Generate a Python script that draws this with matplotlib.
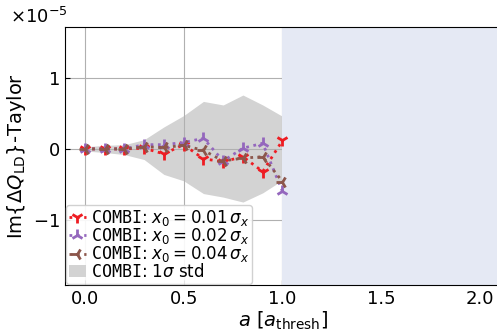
import numpy as np
import matplotlib
matplotlib.use("Agg")
import matplotlib.pyplot as plt

# amplitudes a / a_thresh
a_vals = [0.0, 0.1, 0.2, 0.3, 0.4, 0.5, 0.6, 0.7, 0.8, 0.9, 1.0]

# Im{dQ_LD} - Taylor, units of 1e-5
dq_x001 = [0.0, 0.0, 0.0, 0.01, -0.07, 0.06, -0.14, -0.18, -0.11, -0.32, 0.12]
dq_x002 = [0.0, 0.0, 0.0, 0.06, 0.06, 0.09, 0.15, -0.17, 0.01, 0.08, -0.60]
dq_x004 = [0.0, 0.0, 0.0, 0.03, 0.02, 0.05, -0.02, -0.17, -0.13, -0.11, -0.46]

# 1 sigma band
std_hi = [0.03, 0.05, 0.06, 0.13, 0.31, 0.47, 0.67, 0.62, 0.76, 0.62, 0.46]
std_lo = [-0.03, -0.05, -0.08, -0.15, -0.36, -0.45, -0.63, -0.68, -0.75, -0.62, -0.44]

scale = 1e-5

fig = plt.figure(figsize=(4.97, 3.31), dpi=100)
ax = fig.add_axes([65 / 497, 1 - 285 / 331, (500 - 65) / 497, (285 - 27) / 331])

a = np.array(a_vals)
ax.fill_between(a, np.array(std_lo) * scale, np.array(std_hi) * scale,
                color='#d3d3d3', lw=0, zorder=1, label=r'$\mathtt{COMBI}$: $1\sigma$ std')

ax.plot(a, np.array(dq_x001) * scale, ':', color='#ee1c22', marker='1', ms=9, mew=2, lw=2,
        label=r'$\mathtt{COMBI}$: $x_0 = 0.01\,\sigma_x$', zorder=3)
ax.plot(a, np.array(dq_x002) * scale, ':', color='#9467bd', marker='2', ms=9, mew=2, lw=2,
        label=r'$\mathtt{COMBI}$: $x_0 = 0.02\,\sigma_x$', zorder=3)
ax.plot(a, np.array(dq_x004) * scale, ':', color='#8c564b', marker='3', ms=9, mew=2, lw=2,
        label=r'$\mathtt{COMBI}$: $x_0 = 0.04\,\sigma_x$', zorder=3)

# unstable region
ax.axvspan(1.0, 2.2, color='#e5e9f4', lw=0, zorder=1.6)

ax.set_axisbelow('line')
ax.grid(True, color='#b0b0b0', lw=0.8)
ax.set_xlim(-0.1, 2.1)
ax.set_ylim(-1.92e-5, 1.72e-5)
ax.set_xticks([0.0, 0.5, 1.0, 1.5, 2.0])
ax.set_yticks([-1e-5, 0, 1e-5])
ax.ticklabel_format(axis='y', style='sci', scilimits=(0, 0), useMathText=True)
ax.tick_params(direction='in', labelsize=13)
off = ax.yaxis.get_offset_text()
off.set_fontsize(13)
off.set_x(-0.126)

ax.set_xlabel(r'$a$ [$a_{\rm thresh}$]', fontsize=14, labelpad=1)
ax.set_ylabel(r'Im$\{\Delta Q_{\rm LD}\}$-Taylor', fontsize=14)

h, l = ax.get_legend_handles_labels()
order = [1, 2, 3, 0]
ax.legend([h[i] for i in order], [l[i] for i in order], loc='lower left', fontsize=12,
          handlelength=1.0, handletextpad=0.3, labelspacing=-0.1, borderpad=0.2,
          borderaxespad=0.05, framealpha=0.9)

fig.savefig('out.png', dpi=100)
